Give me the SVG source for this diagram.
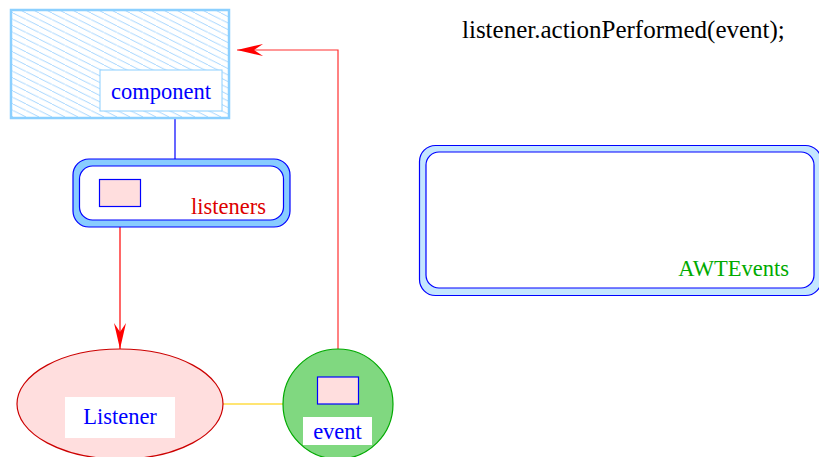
<svg xmlns="http://www.w3.org/2000/svg" width="819" height="457" viewBox="0 0 819 457">
<style>
text{font-family:"Liberation Serif","DejaVu Serif",serif;font-size:22.5px}
.blue{fill:#0000ff}
.red{fill:#dd0000}
.green{fill:#00aa00}
.lbl{fill:#ffffff;stroke:#8cd0ff;stroke-width:1}
.plain{fill:#ffffff;stroke:none}
.pink{fill:#ffdede;stroke:#0000ff;stroke-width:1.2}
</style>
<defs>
<pattern id="hatch" patternUnits="userSpaceOnUse" width="13" height="6.5">
<line x1="-1.3" y1="-0.65" x2="14.3" y2="7.15" stroke="#99d0ff" stroke-width="0.9"/>
</pattern>
<marker id="arr" markerUnits="userSpaceOnUse" markerWidth="28" markerHeight="14" refX="26" refY="7" orient="auto">
<path d="M26,7 L0,1 L9,7 L0,13 Z" fill="#ff0000"/>
</marker>
</defs>
<rect width="819" height="457" fill="#ffffff"/>
<g id="connectors" fill="none">
<line x1="175" y1="118" x2="175" y2="159" stroke="#0000ff" stroke-width="1.2"/>
<line x1="120" y1="207" x2="120" y2="349" stroke="#ff0000" stroke-width="1.2" marker-end="url(#arr)"/>
<polyline points="338,377 338,50 237,50" stroke="#ff3030" stroke-width="1.2" marker-end="url(#arr)"/>
<line x1="223" y1="404" x2="283" y2="404" stroke="#ffdd44" stroke-width="1.5"/>
</g>
<g id="component">
<rect x="11" y="10" width="218" height="108" fill="url(#hatch)" stroke="#8cd0ff" stroke-width="2.5"/>
<rect x="100" y="70" width="122" height="41" class="lbl"/>
<text x="161" y="99" text-anchor="middle" class="blue">component</text>
</g>
<g id="listeners">
<rect x="73" y="159" width="217" height="68" rx="16" fill="#88ccff" stroke="#0000ff" stroke-width="1.2"/>
<rect x="79.5" y="166" width="204" height="54" rx="13" fill="#ffffff" stroke="#0000ff" stroke-width="1.2"/>
<rect x="99.5" y="179.5" width="41" height="27" class="pink"/>
<text x="266" y="214" text-anchor="end" class="red">listeners</text>
</g>
<g id="awtevents">
<rect x="419.5" y="145.5" width="402" height="150" rx="16" fill="#c4e6ff" stroke="#0000ff" stroke-width="1.2"/>
<rect x="426" y="152" width="388" height="136" rx="13" fill="#ffffff" stroke="#0000ff" stroke-width="1.2"/>
<text x="789" y="276" text-anchor="end" class="green">AWTEvents</text>
</g>
<g id="listener">
<ellipse cx="120" cy="404" rx="103" ry="55" fill="#ffdede" stroke="#cc0000" stroke-width="1.2"/>
<rect x="65" y="397" width="110" height="41" class="plain"/>
<text x="120" y="424" text-anchor="middle" class="blue">Listener</text>
</g>
<g id="event">
<circle cx="338" cy="404" r="55" fill="#80d880" stroke="#00aa00" stroke-width="1.2"/>
<rect x="317.5" y="377" width="41" height="27" class="pink"/>
<rect x="303" y="417" width="69" height="28" class="plain"/>
<text x="337.5" y="439" text-anchor="middle" class="blue">event</text>
</g>
<g id="code">
<text x="462" y="38" style="font-size:25px" fill="#000000">listener.actionPerformed(event);</text>
</g>
</svg>
